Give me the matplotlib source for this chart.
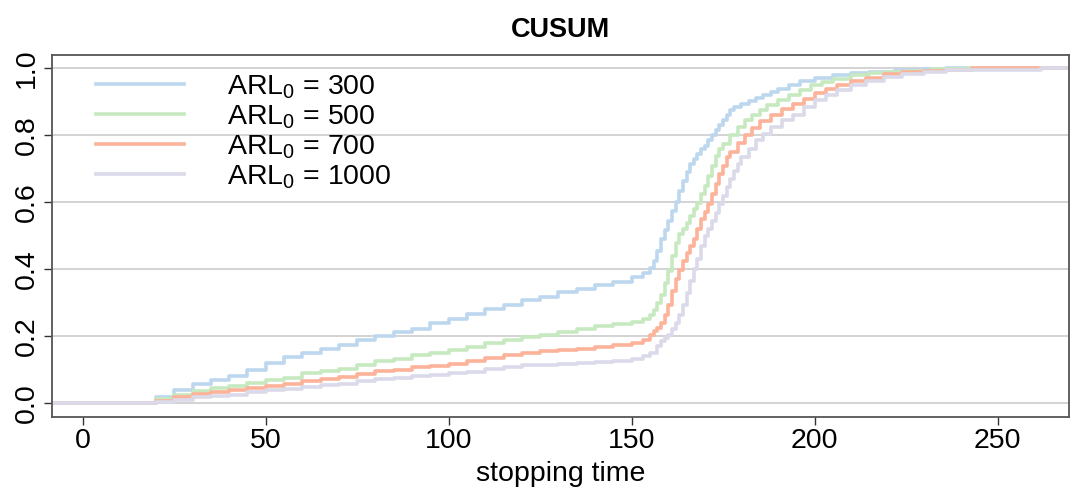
"""CUSUM stopping-time ECDFs for several in-control ARL settings."""

import matplotlib
matplotlib.use("Agg")
import matplotlib.pyplot as plt

plt.rcParams["font.family"] = ["Liberation Sans", "DejaVu Sans"]
plt.rcParams["mathtext.fontset"] = "custom"
plt.rcParams["mathtext.rm"] = "Liberation Sans"
plt.rcParams["mathtext.it"] = "Liberation Sans"

# ---------------------------------------------------------------------- #
# Data (ECDF knots: stopping time, cumulative prob)
# ---------------------------------------------------------------------- #
labels = [r"ARL$_0$ = 300", r"ARL$_0$ = 500", r"ARL$_0$ = 700", r"ARL$_0$ = 1000"]
colors = ["#bdd7ee", "#c7e9c0", "#fcb39a", "#dadaeb"]

t_300 = [20, 25, 30, 35, 40, 45, 50, 55, 60, 65, 70, 75, 80, 85, 90, 95, 100,
         105, 110, 115, 120, 125, 130, 135, 140, 145, 150, 153, 155, 156, 157,
         158, 159, 160, 161, 162, 163, 164, 165, 166, 167, 168, 169, 170, 171,
         172, 173, 174, 175, 176, 177, 178, 180, 182, 184, 186, 188, 190, 193,
         196, 200, 205, 210, 215, 222, 230, 236]
F_300 = [0.018, 0.040, 0.058, 0.070, 0.083, 0.100, 0.120, 0.137, 0.150, 0.162,
         0.175, 0.188, 0.200, 0.212, 0.222, 0.240, 0.252, 0.266, 0.282, 0.295,
         0.308, 0.318, 0.332, 0.342, 0.352, 0.363, 0.376, 0.388, 0.405, 0.425,
         0.455, 0.490, 0.518, 0.545, 0.575, 0.600, 0.635, 0.665, 0.690, 0.715,
         0.730, 0.745, 0.760, 0.770, 0.785, 0.800, 0.815, 0.830, 0.845, 0.860,
         0.875, 0.885, 0.893, 0.902, 0.912, 0.922, 0.930, 0.940, 0.950, 0.963,
         0.972, 0.982, 0.987, 0.990, 0.995, 0.998, 1.0]

t_500 = [20, 25, 30, 35, 40, 45, 50, 55, 60, 65, 70, 75, 80, 85, 90, 95, 100,
         105, 110, 115, 120, 125, 130, 135, 140, 145, 150, 153, 155, 156, 157,
         158, 159, 160, 161, 162, 163, 164, 165, 166, 167, 168, 169, 170, 171,
         172, 173, 174, 175, 177, 179, 181, 183, 185, 187, 190, 193, 196, 199,
         202, 205, 210, 215, 220, 225, 232, 242]
F_500 = [0.013, 0.025, 0.036, 0.045, 0.053, 0.060, 0.070, 0.077, 0.090, 0.097,
         0.103, 0.113, 0.125, 0.133, 0.143, 0.150, 0.158, 0.168, 0.180, 0.188,
         0.198, 0.205, 0.213, 0.222, 0.230, 0.236, 0.244, 0.253, 0.265, 0.280,
         0.300, 0.325, 0.360, 0.395, 0.440, 0.478, 0.505, 0.522, 0.540, 0.560,
         0.580, 0.598, 0.625, 0.650, 0.680, 0.710, 0.740, 0.760, 0.775, 0.800,
         0.825, 0.845, 0.862, 0.877, 0.890, 0.905, 0.920, 0.937, 0.950, 0.960,
         0.970, 0.980, 0.986, 0.991, 0.994, 0.998, 1.0]

t_700 = [20, 25, 30, 35, 40, 45, 50, 55, 60, 65, 70, 75, 80, 85, 90, 95, 100,
         105, 110, 115, 120, 125, 130, 135, 140, 145, 150, 153, 155, 156, 157,
         158, 159, 160, 161, 162, 163, 164, 165, 166, 167, 168, 169, 170, 171,
         172, 173, 174, 175, 176, 177, 179, 181, 183, 185, 188, 191, 194, 197,
         200, 203, 206, 210, 214, 219, 224, 230, 236, 243]
F_700 = [0.008, 0.020, 0.028, 0.033, 0.040, 0.045, 0.052, 0.058, 0.066, 0.072,
         0.078, 0.088, 0.096, 0.101, 0.108, 0.112, 0.118, 0.125, 0.136, 0.145,
         0.150, 0.155, 0.158, 0.163, 0.167, 0.173, 0.180, 0.188, 0.205, 0.215,
         0.225, 0.240, 0.265, 0.295, 0.335, 0.370, 0.398, 0.425, 0.448, 0.470,
         0.490, 0.520, 0.550, 0.570, 0.595, 0.625, 0.655, 0.685, 0.710, 0.735,
         0.752, 0.778, 0.800, 0.822, 0.842, 0.862, 0.880, 0.895, 0.910, 0.928,
         0.940, 0.950, 0.962, 0.973, 0.983, 0.989, 0.994, 0.997, 1.0]

t_1000 = [20, 25, 30, 35, 40, 45, 50, 55, 60, 65, 70, 75, 80, 85, 90, 95, 100,
          105, 110, 115, 120, 125, 130, 135, 140, 145, 150, 153, 155, 157, 158,
          159, 160, 161, 162, 163, 164, 165, 166, 167, 168, 169, 170, 171, 172,
          173, 174, 175, 176, 177, 178, 179, 180, 182, 184, 186, 188, 191, 194,
          197, 200, 203, 206, 210, 214, 219, 224, 230, 236, 245, 262]
F_1000 = [0.003, 0.010, 0.018, 0.022, 0.026, 0.033, 0.040, 0.044, 0.049, 0.054,
          0.058, 0.066, 0.073, 0.077, 0.082, 0.086, 0.090, 0.095, 0.103, 0.108,
          0.113, 0.115, 0.117, 0.120, 0.123, 0.127, 0.133, 0.140, 0.150, 0.170,
          0.185, 0.195, 0.205, 0.222, 0.240, 0.265, 0.295, 0.330, 0.365, 0.400,
          0.432, 0.470, 0.500, 0.520, 0.545, 0.568, 0.595, 0.620, 0.645, 0.670,
          0.695, 0.715, 0.735, 0.760, 0.785, 0.805, 0.825, 0.845, 0.862, 0.885,
          0.905, 0.920, 0.935, 0.950, 0.963, 0.975, 0.984, 0.991, 0.995, 0.997,
          1.0]

series = [(t_300, F_300), (t_500, F_500), (t_700, F_700), (t_1000, F_1000)]

x_ticks = [0, 50, 100, 150, 200, 250]
y_ticks = [0.0, 0.2, 0.4, 0.6, 0.8, 1.0]
XLIM = (-8.4, 269.5)
YLIM = (-0.04, 1.04)

FS = 20.5  # base font size (R cex ~1.5 look)

# ---------------------------------------------------------------------- #
# Figure
# ---------------------------------------------------------------------- #
fig = plt.figure(figsize=(10.71, 4.92), dpi=100)
ax = fig.add_axes([0.0486, 0.153, 0.9494, 0.735])

for y in y_ticks:
    ax.axhline(y, color="#c8c8c8", lw=1.1, zorder=0)

for (t, F), c, lab in zip(series, colors, labels):
    # ECDF: flat at 0 from the left edge, flat at 1 to the right edge
    xs = [XLIM[0] - 5] + list(t) + [XLIM[1] + 5]
    ys = [0.0] + list(F) + [F[-1]]
    ax.step(xs, ys, where="post", color=c, lw=2.6, label=lab)

ax.set_xlim(*XLIM)
ax.set_ylim(*YLIM)
ax.set_xticks(x_ticks)
ax.set_yticks(y_ticks)
ax.set_yticklabels([f"{v:.1f}" for v in y_ticks], rotation=90, va="center")
ax.tick_params(axis="both", labelsize=FS, length=6, width=1.0, color="#333333")
ax.tick_params(axis="x", pad=2)
ax.tick_params(axis="y", pad=3)

for s in ax.spines.values():
    s.set_color("#555555")
    s.set_linewidth(1.3)

ax.set_xlabel("stopping time", fontsize=FS, labelpad=5)
ax.set_title("CUSUM", fontsize=19.5, fontweight="bold", pad=13)

ax.legend(loc="upper left", bbox_to_anchor=(0.043, 0.95), frameon=False,
          fontsize=FS, handlelength=3.1, handletextpad=1.5,
          labelspacing=0.09, borderpad=0, borderaxespad=0)

fig.savefig("out.png", dpi=100)
